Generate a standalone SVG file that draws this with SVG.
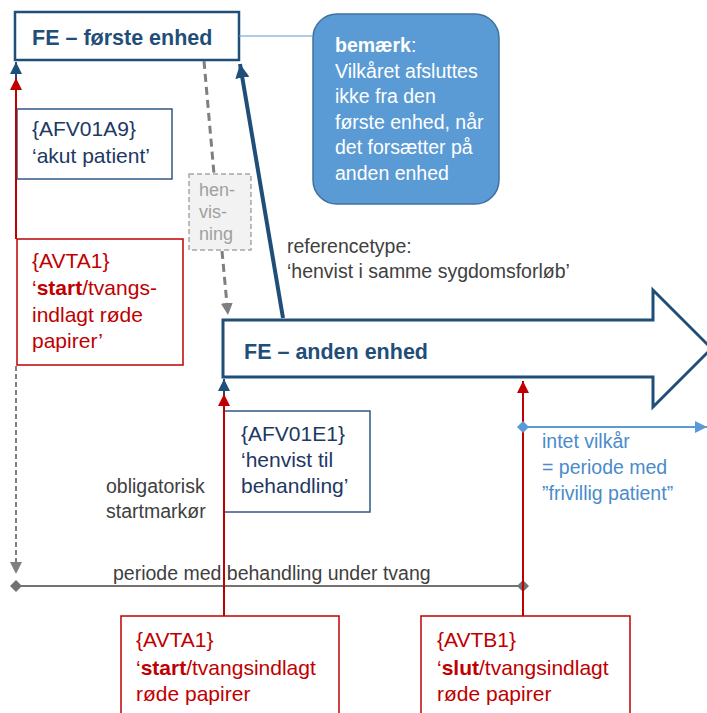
<svg xmlns="http://www.w3.org/2000/svg" width="707" height="713" viewBox="0 0 707 713">
<style>
text { font-family: "Liberation Sans", Arial, sans-serif; }
.title { font-size: 21.5px; font-weight: bold; fill: #1F4E79; }
.boxtxt { font-size: 21px; }
.navy { fill: #203864; }
.red { fill: #C00000; }
.gray { font-size: 19.5px; fill: #404040; }
.lblue { font-size: 19.5px; fill: #4A8BCB; }
.callt { font-size: 19.5px; fill: #FFFFFF; }
.hen { font-size: 18px; fill: #A0A0A0; }
.navybox { fill: #FFFFFF; stroke: #2E5A88; stroke-width: 1.5; }
.redbox { fill: #FFFFFF; stroke: #C00000; stroke-width: 1.5; }
.c-red { stroke: #C00000; stroke-width: 2; fill: none; }
.c-blue { stroke: #1F4E79; stroke-width: 2; fill: none; }
.c-gray { stroke: #7F7F7F; stroke-width: 2; fill: none; }
.c-lblue { stroke: #5B9BD5; stroke-width: 2; fill: none; }
</style>
<defs>
<marker id="ah-blue" viewBox="0 0 10 10" refX="10" refY="5" markerWidth="13" markerHeight="12" markerUnits="userSpaceOnUse" orient="auto"><path d="M0,0 L10,5 L0,10 z" fill="#1F4E79"/></marker>
<marker id="ah-blue-big" viewBox="0 0 10 10" refX="10" refY="5" markerWidth="14" markerHeight="14" markerUnits="userSpaceOnUse" orient="auto"><path d="M0,0 L10,5 L0,10 z" fill="#1F4E79"/></marker>
<marker id="ah-red" viewBox="0 0 10 10" refX="10" refY="5" markerWidth="13" markerHeight="12" markerUnits="userSpaceOnUse" orient="auto"><path d="M0,0 L10,5 L0,10 z" fill="#C00000"/></marker>
<marker id="ah-gray" viewBox="0 0 10 10" refX="10" refY="5" markerWidth="12" markerHeight="12" markerUnits="userSpaceOnUse" orient="auto"><path d="M0,0 L10,5 L0,10 z" fill="#7F7F7F"/></marker>
<marker id="ah-lblue" viewBox="0 0 10 10" refX="10" refY="5" markerWidth="13" markerHeight="12" markerUnits="userSpaceOnUse" orient="auto"><path d="M0,0 L10,5 L0,10 z" fill="#5B9BD5"/></marker>
<marker id="dia-gray" viewBox="0 0 10 10" refX="5" refY="5" markerWidth="12" markerHeight="12" markerUnits="userSpaceOnUse" orient="auto"><path d="M0,5 L5,0 L10,5 L5,10 z" fill="#767171"/></marker>
<marker id="dia-lblue" viewBox="0 0 10 10" refX="5" refY="5" markerWidth="12" markerHeight="12" markerUnits="userSpaceOnUse" orient="auto"><path d="M0,5 L5,0 L10,5 L5,10 z" fill="#5B9BD5"/></marker>
</defs>

<rect width="707" height="713" fill="#FFFFFF"/>

<g id="node-fe-anden-enhed">
<path d="M223,320 H653 V290 L711.5,348.5 L653,407 V377 H223 Z" fill="#FFFFFF" stroke="#1F4E79" stroke-width="3"/>
<text class="title" x="244" y="359">FE – anden enhed</text>
</g>

<g id="node-fe-foerste-enhed">
<rect x="15" y="12" width="224" height="48" fill="#FFFFFF" stroke="#1F4E79" stroke-width="2.5"/>
<text class="title" x="32" y="45">FE – første enhed</text>
</g>

<g id="node-bemaerk">
<rect x="313" y="14" width="186" height="190" rx="24" ry="24" fill="#5B9BD5" stroke="#41719C" stroke-width="1.5"/>
<text class="callt" x="335" y="52"><tspan font-weight="bold">bemærk</tspan>:</text>
<text class="callt" x="335" y="77.5">Vilkåret afsluttes</text>
<text class="callt" x="335" y="103">ikke fra den</text>
<text class="callt" x="335" y="128.5">første enhed, når</text>
<text class="callt" x="335" y="154">det forsætter på</text>
<text class="callt" x="335" y="179.5">anden enhed</text>
</g>

<g id="node-afv01a9">
<rect class="navybox" x="17" y="109" width="155" height="70"/>
<text class="boxtxt navy" x="32" y="136">{AFV01A9}</text>
<text class="boxtxt navy" x="32" y="163">‘akut patient’</text>
</g>

<g id="node-avta1-left">
<rect class="redbox" x="17" y="239" width="166" height="126"/>
<text class="boxtxt red" x="32" y="268">{AVTA1}</text>
<text class="boxtxt red" x="32" y="295">‘<tspan font-weight="bold">start</tspan>/tvangs-</text>
<text class="boxtxt red" x="32" y="322">indlagt røde</text>
<text class="boxtxt red" x="32" y="348">papirer’</text>
</g>

<g id="node-henvisning">
<rect x="189" y="174" width="62" height="76" fill="#F2F2F2" stroke="#A6A6A6" stroke-width="1.5" stroke-dasharray="5,3"/>
<text class="hen" x="199" y="196">hen-</text>
<text class="hen" x="199" y="218">vis-</text>
<text class="hen" x="199" y="240">ning</text>
</g>

<g id="node-afv01e1">
<rect class="navybox" x="224" y="411" width="146" height="101"/>
<text class="boxtxt navy" x="241" y="441">{AFV01E1}</text>
<text class="boxtxt navy" x="241" y="467">‘henvist til</text>
<text class="boxtxt navy" x="241" y="493">behandling’</text>
</g>

<g id="node-avta1-bottom">
<rect class="redbox" x="121" y="616" width="218" height="110"/>
<text class="boxtxt red" x="136" y="647">{AVTA1}</text>
<text class="boxtxt red" x="136" y="675">‘<tspan font-weight="bold">start</tspan>/tvangsindlagt</text>
<text class="boxtxt red" x="136" y="701">røde papirer</text>
</g>

<g id="node-avtb1">
<rect class="redbox" x="421" y="616" width="209" height="110"/>
<text class="boxtxt red" x="437" y="647">{AVTB1}</text>
<text class="boxtxt red" x="437" y="675">‘<tspan font-weight="bold">slut</tspan>/tvangsindlagt</text>
<text class="boxtxt red" x="437" y="701">røde papirer</text>
</g>

<g id="connectors">
<path d="M239,36 H313" stroke="#5B9BD5" stroke-width="1" fill="none"/>
<path class="c-blue" d="M16,239 V62" marker-end="url(#ah-blue)"/>
<path class="c-red" d="M16,239 V78" marker-end="url(#ah-red)"/>
<path class="c-gray" d="M16,366 V574" stroke-dasharray="5,3" marker-end="url(#ah-gray)"/>
<path d="M16,586 H523" stroke="#767171" stroke-width="2" fill="none" marker-start="url(#dia-gray)" marker-end="url(#dia-gray)"/>
<path class="c-blue" d="M224,616 V379" marker-end="url(#ah-blue)"/>
<path class="c-red" d="M224,616 V394" marker-end="url(#ah-red)"/>
<path class="c-red" d="M523,616 V381" marker-end="url(#ah-red)"/>
<path class="c-lblue" d="M523,427 H707" marker-start="url(#dia-lblue)" marker-end="url(#ah-lblue)"/>
<path d="M283,318 L240,64" stroke="#1F4E79" stroke-width="4" fill="none" marker-end="url(#ah-blue-big)"/>
<path d="M204,61 L214,174" stroke="#7F7F7F" stroke-width="3" stroke-dasharray="8,5" fill="none"/>
<path d="M222,251 L228,315" stroke="#7F7F7F" stroke-width="3" stroke-dasharray="8,5" fill="none" marker-end="url(#ah-gray)"/>
</g>

<g id="labels">
<text class="gray" x="287" y="253">referencetype:</text>
<text class="gray" x="287" y="278">‘henvist i samme sygdomsforløb’</text>
<text class="gray" x="106" y="493">obligatorisk</text>
<text class="gray" x="106" y="518">startmarkør</text>
<text class="gray" x="113" y="580">periode med behandling under tvang</text>
<text class="lblue" x="542" y="448">intet vilkår</text>
<text class="lblue" x="542" y="474">= periode med</text>
<text class="lblue" x="542" y="500">”frivillig patient”</text>
</g>
</svg>
